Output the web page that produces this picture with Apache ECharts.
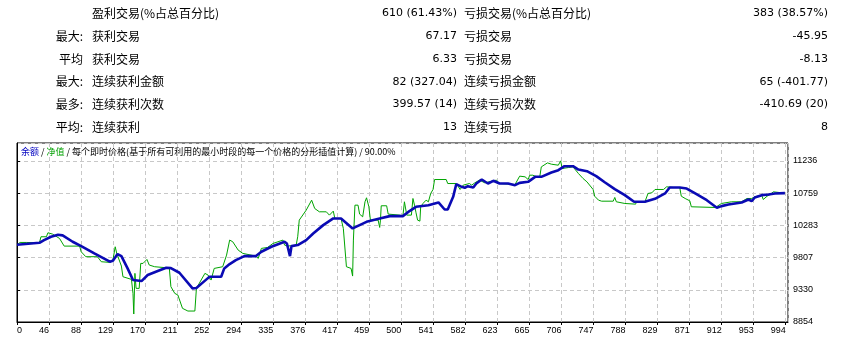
<!DOCTYPE html>
<html>
<head>
<meta charset="utf-8">
<script src="https://cdn.jsdelivr.net/npm/echarts@6/dist/echarts.min.js"></script>
<style>
  html, body { margin: 0; padding: 0; background: #fff; }
  #chart { width: 849px; height: 339px; }
</style>
</head>
<body>
<div id="chart"></div>
<script>
// 统计表
const rowPrefix = ['', '最大:', '平均', '最大:', '最多:', '平均:']
const winLabels = ['盈利交易(%占总百分比)', '获利交易', '获利交易', '连续获利金额', '连续获利次数', '连续获利']
const winValues = ['610 (61.43%)', '67.17', '6.33', '82 (327.04)', '399.57 (14)', '13']
const lossLabels = ['亏损交易(%占总百分比)', '亏损交易', '亏损交易', '连续亏损金额', '连续亏损次数', '连续亏损']
const lossValues = ['383 (38.57%)', '-45.95', '-8.13', '65 (-401.77)', '-410.69 (20)', '8']

// 坐标轴刻度
const xTickLabels = [0, 46, 88, 129, 170, 211, 252, 294, 335, 376, 417, 459, 500, 541, 582, 623, 665, 706, 747, 788, 829, 871, 912, 953, 994]
const yTickLabels = [8854, 9330, 9807, 10283, 10759, 11236]

// 余额
const balanceTrades = [0, 29, 35, 44, 53, 59, 72, 83, 100, 120, 124, 130, 135, 143, 150, 161, 169, 182, 193, 199, 210, 227, 232, 245, 249, 264, 268, 275, 283, 294, 309, 316, 329, 346, 349, 353, 355, 363, 374, 383, 396, 409, 419, 434, 452, 469, 482, 499, 508, 516, 532, 545, 553, 557, 564, 568, 575, 579, 583, 590, 594, 601, 609, 616, 624, 635, 644, 650, 661, 670, 678, 691, 700, 708, 719, 726, 737, 749, 760, 773, 786, 798, 812, 825, 838, 844, 857, 866, 877, 892, 905, 911, 920, 937, 946, 950, 954, 963, 972, 980, 993]
const balanceValues = [9995, 10025, 10065, 10114, 10143, 10134, 10040, 9976, 9868, 9745, 9760, 9858, 9828, 9646, 9474, 9459, 9548, 9607, 9656, 9651, 9582, 9351, 9356, 9484, 9523, 9523, 9646, 9710, 9769, 9828, 9828, 9892, 9966, 10040, 10015, 9828, 9976, 9991, 10065, 10163, 10286, 10385, 10385, 10237, 10335, 10385, 10419, 10419, 10498, 10557, 10581, 10621, 10517, 10517, 10704, 10891, 10852, 10837, 10862, 10842, 10901, 10960, 10901, 10941, 10901, 10901, 10877, 10911, 10926, 11000, 11000, 11064, 11098, 11157, 11157, 11108, 11083, 11010, 10920, 10818, 10729, 10631, 10631, 10675, 10754, 10842, 10842, 10827, 10754, 10655, 10542, 10567, 10591, 10621, 10665, 10640, 10695, 10729, 10739, 10754, 10759]

// 净值
const equityTrades = [0, 4, 12, 13, 29, 31, 38, 40, 46, 55, 61, 81, 83, 89, 104, 109, 120, 124, 127, 129, 135, 137, 148, 150, 151, 152.5, 154, 158, 160, 163, 168, 171, 178, 193, 197, 199, 204, 208, 214, 221, 230, 232, 243, 247, 251, 253, 255, 266, 271, 275, 279, 286, 292, 309, 312, 316, 324, 331, 344, 346, 350, 361, 363, 365, 374, 381, 385, 391, 400, 404, 409, 411, 419, 422, 426, 432, 434, 435, 437, 441, 443, 447, 450, 452, 455, 457, 467, 469, 470, 471, 478, 480, 495, 499, 501, 504, 510, 512, 514, 516, 518, 521, 522, 525, 527, 529, 532, 535, 538, 540, 542, 555, 557, 568, 573, 577, 585, 588, 592, 598, 605, 616, 620, 624, 644, 650, 657, 661, 663, 667, 672, 676, 678, 686, 691, 700, 703, 705, 713, 719, 726, 732, 737, 745, 747, 752, 756, 771, 773, 775, 786, 800, 801, 812, 816, 821, 823, 825, 836, 840, 849, 857, 859, 864, 870, 872, 903, 911, 924, 926, 937, 944, 950, 954, 963, 965, 970, 974, 978, 980, 993]
const equityValues = [9995, 10030, 10030, 10006, 10025, 10114, 10114, 10173, 10153, 10089, 9976, 9976, 9892, 9819, 9819, 9745, 9735, 9769, 9966, 9868, 9681, 9523, 9484, 9277, 8972, 9573, 9351, 9351, 9720, 9720, 9779, 9696, 9671, 9656, 9646, 9376, 9277, 9253, 9056, 9016, 9016, 9351, 9573, 9548, 9474, 9450, 9646, 9671, 9843, 10065, 10040, 9917, 9868, 9828, 9794, 9942, 9956, 10015, 10065, 9991, 9976, 9991, 10114, 10360, 10508, 10655, 10532, 10483, 10483, 10434, 10493, 10385, 10385, 10237, 9671, 9646, 9533, 10065, 10581, 10581, 10449, 10409, 10631, 10690, 10557, 10360, 10360, 10252, 10360, 10572, 10572, 10449, 10434, 10419, 10631, 10434, 10434, 10680, 10581, 10468, 10360, 10345, 10557, 10606, 10581, 10655, 10631, 10754, 10813, 10960, 10975, 10960, 10901, 10901, 10813, 10877, 10901, 10877, 10911, 10951, 10911, 10941, 10951, 10901, 10886, 11010, 11000, 10960, 11024, 11024, 11000, 11000, 11147, 11206, 11187, 11172, 11236, 11123, 11137, 11147, 11049, 10975, 10926, 10813, 10714, 10655, 10640, 10640, 10695, 10631, 10606, 10596, 10631, 10631, 10754, 10764, 10744, 10813, 10813, 10852, 10842, 10842, 10714, 10680, 10645, 10557, 10547, 10606, 10631, 10655, 10631, 10680, 10680, 10704, 10729, 10665, 10714, 10739, 10778, 10754, 10759]

const xStep = 41.42
const yStep = (yTickLabels[5] - yTickLabels[0]) / 5

const tableFont = '"Noto Sans CJK SC", sans-serif'
const numFont = '"DejaVu Sans", sans-serif'

function textEl(x, y, text, align, font, size) {
  return {
    type: 'text',
    x: x,
    y: y,
    style: {
      text: text,
      fill: '#000',
      font: size + 'px ' + font,
      textAlign: align,
      textVerticalAlign: 'middle'
    }
  }
}

const tableEls = []
rowPrefix.forEach((p, i) => {
  const y = 13.5 + 22.75 * i
  if (p) tableEls.push(textEl(83, y, p, 'right', tableFont, 12))
  tableEls.push(textEl(92, y, winLabels[i], 'left', tableFont, 12))
  tableEls.push(textEl(457, y, winValues[i], 'right', numFont, 11))
  tableEls.push(textEl(464, y, lossLabels[i], 'left', tableFont, 12))
  tableEls.push(textEl(828, y, lossValues[i], 'right', numFont, 11))
})

const chart = echarts.init(document.getElementById('chart'))

chart.setOption({
  backgroundColor: '#fff',
  animation: false,
  grid: {
    left: 17,
    right: 61,
    top: 143,
    bottom: 17,
    show: true,
    borderColor: '#000',
    borderWidth: 1,
    containLabel: false,
    outerBoundsMode: 'none'
  },
  graphic: tableEls.concat([
    {
      type: 'text',
      x: 21,
      y: 152,
      style: {
        text: '{b|余额} / {g|净值} / 每个即时价格(基于所有可利用的最小时段的每一个价格的分形插值计算) / 90.00%',
        font: '9px ' + tableFont,
        fill: '#000',
        textVerticalAlign: 'middle',
        rich: {
          b: { fill: '#0000c0', font: '9px ' + tableFont },
          g: { fill: '#00a000', font: '9px ' + tableFont }
        }
      }
    }
  ]),
  xAxis: {
    type: 'value',
    min: 0,
    max: 997,
    interval: xStep,
    axisLine: { lineStyle: { color: '#000', width: 1 } },
    axisTick: { show: true, length: 3, lineStyle: { color: '#000' } },
    axisLabel: {
      color: '#000',
      fontSize: 9,
      fontFamily: 'Liberation Sans',
      align: 'right',
      alignMinLabel: 'left',
      margin: 4,
      showMaxLabel: false,
      formatter: (v) => {
        const i = Math.round(v / xStep)
        return i < xTickLabels.length ? String(xTickLabels[i]) : ''
      }
    },
    splitLine: { show: true, lineStyle: { color: '#c8c8c8', type: [4, 3] } }
  },
  yAxis: {
    type: 'value',
    position: 'right',
    min: yTickLabels[0],
    max: 11500,
    interval: yStep,
    axisLine: { show: true, lineStyle: { color: '#000', width: 1 } },
    axisTick: { show: true, length: 3, lineStyle: { color: '#000' } },
    axisLabel: {
      color: '#000',
      fontSize: 9,
      fontFamily: 'Liberation Sans',
      margin: 5,
      showMaxLabel: false,
      formatter: (v) => {
        const i = Math.round((v - yTickLabels[0]) / yStep)
        return i < yTickLabels.length ? String(yTickLabels[i]) : ''
      }
    },
    splitLine: { show: true, lineStyle: { color: '#c8c8c8', type: [4, 3] } }
  },
  series: [
    {
      name: '净值',
      type: 'line',
      showSymbol: false,
      data: equityTrades.map((t, i) => [t, equityValues[i]]),
      lineStyle: { color: '#00a400', width: 1 },
      z: 2
    },
    {
      name: '余额',
      type: 'line',
      showSymbol: false,
      data: balanceTrades.map((t, i) => [t, balanceValues[i]]),
      lineStyle: { color: '#0a0ab4', width: 2.6 },
      z: 3
    }
  ]
})
</script>
</body>
</html>
